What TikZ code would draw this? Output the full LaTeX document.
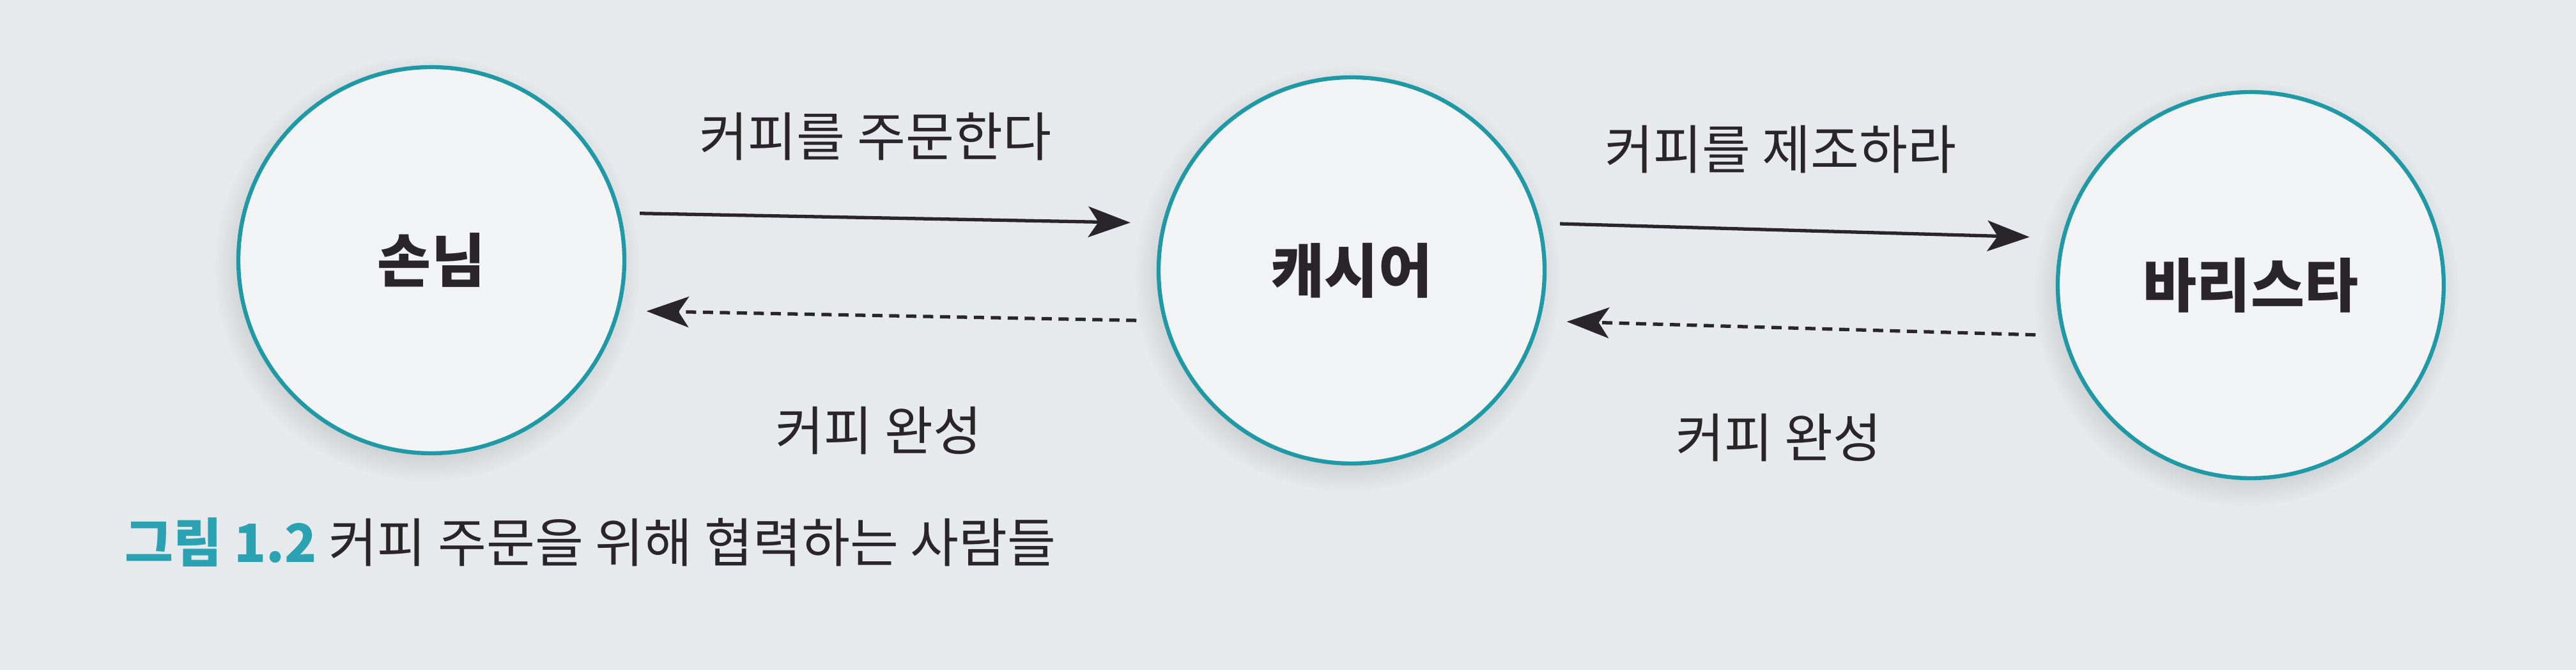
\documentclass[tikz,border=0pt]{standalone}
\usepackage{fontspec}
\setmainfont{Noto Sans CJK KR}
\usepackage{tikz}
\usetikzlibrary{calc}
\usetikzlibrary{arrows.meta}
\usetikzlibrary{shadows}
\definecolor{paper}{HTML}{E6EAEC}
\definecolor{disc}{HTML}{F2F3F4}
\definecolor{ringteal}{HTML}{1E99A5}
\definecolor{capteal}{HTML}{2AA2B2}
\definecolor{ink}{HTML}{2A2528}

\begin{document}
\begin{tikzpicture}[
  actor/.style={circle, draw=ringteal, line width=1.8pt, fill=disc, minimum size=6.04cm, inner sep=0pt,
    text=ink, font=\fontsize{26}{30}\selectfont\bfseries,
    circular drop shadow={shadow xshift=-0.6mm, shadow yshift=-1.2mm, opacity=0.25}},
  order/.style={ink, line width=1.5pt, -{Stealth[length=6.6mm, width=4.8mm, inset=1.6mm]}},
  reply/.style={order, dash pattern=on 1.6mm off 1.05mm},
  msg/.style={text=ink, font=\fontsize{23.5}{28}\selectfont, inner sep=0pt}
]

\useasboundingbox (0,0) rectangle (40.31,10.48);
\fill[paper] (0,0) rectangle (40.31,10.48);

\node[actor] (guest) at (6.75,6.41) {손님};
\node[actor] (cashier) at (21.15,6.25) {캐시어};
\node[actor] (barista) at (35.22,6.02) {바리스타};

% requests
\draw[order, shorten <=3mm, shorten >=5mm] (guest.14)--(cashier.166) node [midway, msg, xshift=-2.5mm, yshift=12.8mm] {커피를 주문한다};
\draw[order, shorten <=3mm, shorten >=5mm] (cashier.14)--(barista.166) node [midway, msg, xshift=-3.2mm, yshift=12.7mm] {커피를 제조하라};

% replies
\draw[reply, shorten <=4.2mm, shorten >=4.2mm] (cashier.195)--(guest.-15) node [midway, msg, xshift=-2mm, yshift=-18mm] {커피 완성};
\draw[reply, shorten <=4.2mm, shorten >=4.2mm] (barista.195)--(cashier.-15) node [midway, msg, xshift=-3.5mm, yshift=-17.1mm] {커피 완성};

\node[anchor=base west, inner sep=0pt, text=ink, font=\fontsize{23.5}{28}\selectfont] (figcap) at (1.95,1.68)
  {{\color{capteal}\bfseries 그림 1.2} 커피 주문을 위해 협력하는 사람들};

\end{tikzpicture}
\end{document}
